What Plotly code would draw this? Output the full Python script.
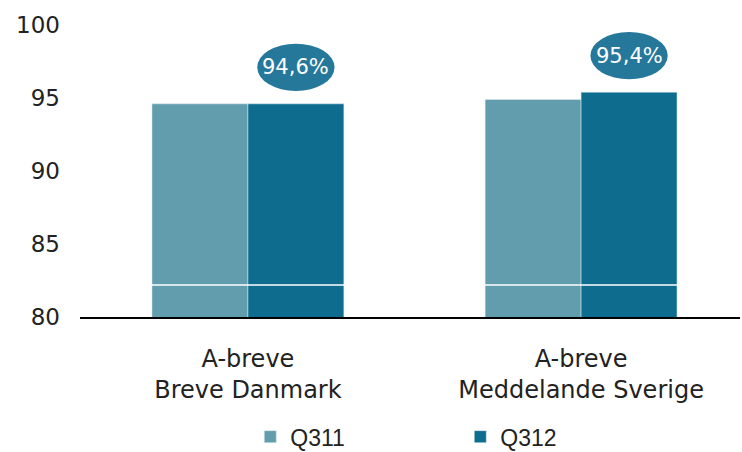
import plotly.graph_objects as go

categories = ["A-breve<br>Breve Danmark", "A-breve<br>Meddelande Sverige"]
q311 = [94.6, 94.9]
q312 = [94.6, 95.4]
q312_labels = ["94,6%", "95,4%"]
break_mark = 82.2

c311 = "#629DAD"
c312 = "#0E6C8F"
c_bubble = "#26789B"

fig = go.Figure()
fig.add_trace(go.Bar(x=[0, 1], y=q311, name="Q311", marker_color=c311))
fig.add_trace(go.Bar(x=[0, 1], y=q312, name="Q312", marker_color=c312))

# white "axis break" line, only visible across the bars
fig.add_hline(y=break_mark, line_color="white", line_width=1.5, layer="above")

# ellipse labels above the Q312 bars
off = 0.144
for i, (v, lab) in enumerate(zip(q312, q312_labels)):
    cy = v + 2.5
    fig.add_shape(type="circle", xref="x", yref="y",
                  x0=i + off - 0.116, x1=i + off + 0.116,
                  y0=cy - 1.62, y1=cy + 1.62,
                  fillcolor=c_bubble, line_width=0, layer="above")
    fig.add_annotation(x=i + off, y=cy, text=lab, showarrow=False,
                       font=dict(family="DejaVu Sans", size=21, color="white"))

fig.update_layout(
    width=742, height=452,
    margin=dict(l=80, r=2, t=25, b=135, autoexpand=False),
    plot_bgcolor="white", paper_bgcolor="white",
    barmode="group", bargap=0.424, bargroupgap=0,
    font=dict(family="DejaVu Sans", size=23, color="#222222"),
    showlegend=True,
    legend=dict(orientation="h", x=0.258, xanchor="left", y=-0.41, yanchor="middle",
                entrywidth=165, font=dict(family="Liberation Sans", size=23, color="#222222")),
)
fig.update_xaxes(tickmode="array", tickvals=[0, 1], ticktext=categories,
                 tickfont=dict(size=24),
                 range=[-0.504, 1.477], showline=True, linecolor="black", linewidth=2,
                 showgrid=False, ticks="", ticklabelstandoff=19, automargin=False)
fig.update_yaxes(range=[80, 100], tickvals=[80, 85, 90, 95, 100], showgrid=False,
                 zeroline=False, showline=False, ticks="", ticklabelstandoff=19,
                 automargin=False)

# page has a default body margin; remove it so the figure sits at 0,0
fig.write_html("out.html", config={"displayModeBar": False},
               post_script="document.body.style.margin='0';document.body.style.overflow='hidden';")
